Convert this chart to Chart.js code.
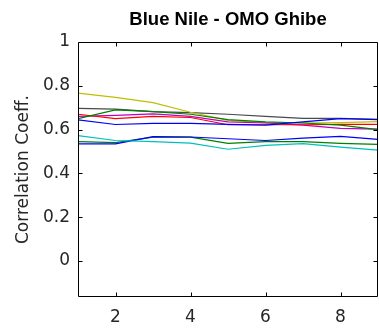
<!DOCTYPE html>
<html>
<head>
<meta charset="utf-8">
<script src="https://cdn.jsdelivr.net/npm/chart.js@4/dist/chart.umd.min.js"></script>
<style>
  html, body { margin: 0; padding: 0; background: #fff; }
  #wrap { width: 379px; height: 329px; }
</style>
</head>
<body>
<div id="wrap"><canvas id="myChart" width="379" height="329"></canvas></div>
<script>
// lag index on the x axis
const lags = [1, 2, 3, 4, 5, 6, 7, 8, 9];
const xTicks = [2, 4, 6, 8];
const yTicks = [0, 0.2, 0.4, 0.6, 0.8, 1];
const chartTitle = 'Blue Nile - OMO Ghibe';

// one series per station pair
const blueUpper = [0.644, 0.623, 0.628, 0.628, 0.624, 0.620, 0.635, 0.650, 0.645];
const greenUpper = [0.650, 0.690, 0.682, 0.670, 0.645, 0.635, 0.630, 0.620, 0.600];
const redLine = [0.670, 0.650, 0.660, 0.655, 0.622, 0.622, 0.622, 0.624, 0.624];
const cyanLine = [0.572, 0.550, 0.545, 0.538, 0.510, 0.528, 0.536, 0.520, 0.506];
const magentaLine = [0.660, 0.665, 0.672, 0.660, 0.635, 0.630, 0.620, 0.605, 0.602];
const yellowLine = [0.766, 0.747, 0.723, 0.679, 0.642, 0.632, 0.630, 0.632, 0.636];
const blackLine = [0.697, 0.693, 0.682, 0.677, 0.670, 0.660, 0.651, 0.651, 0.647];
const blueLower = [0.535, 0.535, 0.568, 0.566, 0.558, 0.550, 0.561, 0.569, 0.555];
const greenLower = [0.545, 0.540, 0.565, 0.565, 0.537, 0.545, 0.545, 0.537, 0.532];

const labelFont = { family: 'DejaVu Sans, sans-serif', size: 17 };

function series(values, color) {
  return {
    data: values.map(function (v, i) { return { x: lags[i], y: v }; }),
    borderColor: color,
    borderWidth: 1.2,
    pointRadius: 0,
    tension: 0,
    fill: false
  };
}

// box round the plot with short inward ticks on every side, title centred over the axes
const frame = {
  id: 'frame',
  afterDraw: function (chart) {
    const c = chart.ctx;
    const a = chart.chartArea;
    const l = Math.round(a.left) + 0.5, r = Math.round(a.right) - 0.5;
    const t = Math.round(a.top) + 0.5, b = Math.round(a.bottom) - 0.5;
    const tick = 4;
    c.save();
    c.strokeStyle = '#000';
    c.lineWidth = 1;
    c.beginPath();
    c.rect(l, t, r - l, b - t);
    xTicks.forEach(function (v) {
      const x = Math.round(chart.scales.x.getPixelForValue(v)) + 0.5;
      c.moveTo(x, b); c.lineTo(x, b - tick);
      c.moveTo(x, t); c.lineTo(x, t + tick);
    });
    yTicks.forEach(function (v) {
      const y = Math.round(chart.scales.y.getPixelForValue(v)) + 0.5;
      c.moveTo(l, y); c.lineTo(l + tick, y);
      c.moveTo(r, y); c.lineTo(r - tick, y);
    });
    c.stroke();

    c.fillStyle = '#000';
    c.font = 'bold 18.5px "Liberation Sans", Arial, sans-serif';
    c.textAlign = 'center';
    c.textBaseline = 'middle';
    c.fillText(chartTitle, (a.left + a.right) / 2, 20);
    c.restore();
  }
};

const ctx = document.getElementById('myChart').getContext('2d');
const chart = new Chart(ctx, {
  type: 'line',
  data: {
    datasets: [
      series(blueUpper, '#0000ff'),
      series(greenUpper, '#008000'),
      series(redLine, '#ff0000'),
      series(cyanLine, '#00bfbf'),
      series(magentaLine, '#bf00bf'),
      series(yellowLine, '#bfbf00'),
      series(blackLine, '#4a4a4a'),
      series(blueLower, '#0000ff'),
      series(greenLower, '#008000')
    ]
  },
  options: {
    responsive: false,
    animation: false,
    layout: { padding: { left: 0, right: 1, top: 42, bottom: 0 } },
    plugins: {
      legend: { display: false },
      tooltip: { enabled: false },
      title: { display: false }
    },
    scales: {
      x: {
        type: 'linear',
        min: 1,
        max: 9,
        grid: { display: false, drawTicks: false },
        border: { display: false },
        afterBuildTicks: function (scale) {
          scale.ticks = xTicks.map(function (v) { return { value: v }; });
        },
        afterFit: function (scale) { scale.height = 32; },
        ticks: { padding: 10, color: '#262626', font: labelFont, maxRotation: 0 }
      },
      y: {
        type: 'linear',
        min: -0.165,
        max: 1,
        grid: { display: false, drawTicks: false },
        border: { display: false },
        afterBuildTicks: function (scale) {
          scale.ticks = yTicks.map(function (v) { return { value: v }; });
        },
        afterFit: function (scale) { scale.width = 78; },
        ticks: {
          padding: 8,
          color: '#262626',
          font: labelFont,
          callback: function (v) { return String(v); }
        },
        title: {
          display: true,
          text: 'Correlation Coeff.',
          color: '#262626',
          font: labelFont,
          padding: { top: 13, bottom: 0 }
        }
      }
    }
  },
  plugins: [frame]
});
</script>
</body>
</html>
